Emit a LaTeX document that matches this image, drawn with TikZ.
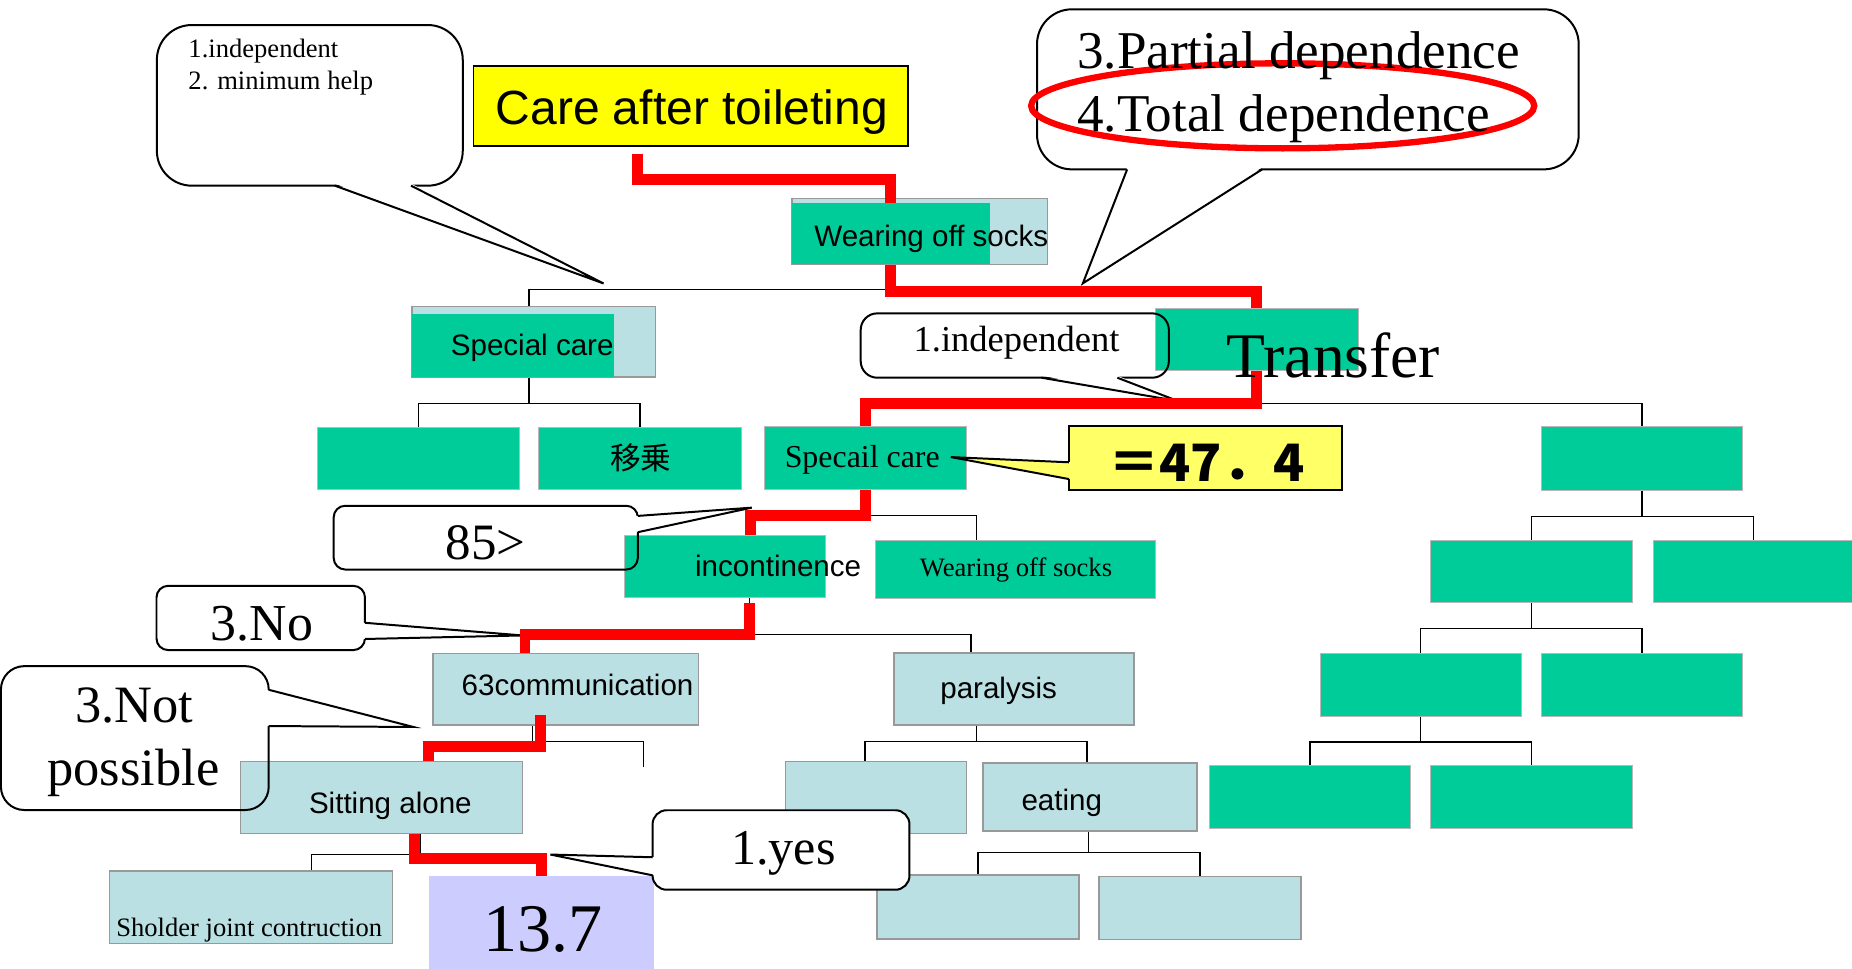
\documentclass[tikz,border=0pt]{standalone}
\usepackage{fontspec}
\setmainfont{Liberation Serif}
\setsansfont{Liberation Sans}
\newfontfamily\jpfont{Noto Sans CJK JP}
\usetikzlibrary{fit}
\definecolor{tgreen}{HTML}{00CC99}
\definecolor{tblue}{HTML}{BBE0E3}
\definecolor{tlav}{HTML}{CCCCFF}
\definecolor{tyel}{HTML}{FFFF00}
\definecolor{tyelb}{HTML}{FFFF66}
\newcommand{\fsz}[1]{\fontsize{#1}{#1}\selectfont}
\tikzset{
  gbox/.style={fill=tgreen, draw=gray!55, line width=0.6pt, inner sep=0pt},
  bbox/.style={fill=tblue, draw=gray!80, line width=0.9pt, inner sep=0pt},
  tree/.style={draw=black, line width=0.8pt},
  route/.style={draw=red, line width=6.6pt},
  bubble/.style={draw=black, line width=1.2pt},
  lbl/.style={inner sep=0pt, anchor=base},
  sanslbl/.style={lbl, font=\sffamily\fsz{17.8pt}}
}
\begin{document}
\begin{tikzpicture}[x=0.025cm,y=-0.025cm]
\useasboundingbox (0,0) rectangle (1568,820);

% Boxes
\node[fill=tyel, draw=black, line width=1pt, inner sep=0pt, fit={(400.8,55.9) (769,123.4)}] (care) {};
\node[bbox, fit={(670.6,167.9) (886.7,223.8)}] (wosbg) {};
\node[fill=tgreen, inner sep=0pt, fit={(670.6,172.2) (838,223.8)}] (wos) {};
\node[bbox, fit={(349,259.7) (555,319)}] (spc) {};
\node[fill=tgreen, inner sep=0pt, fit={(349,265.9) (519.6,319)}] (spcfg) {};
\node[gbox, fit={(268.5,361.7) (439.6,414.7)}] (e1) {};
\node[gbox, fit={(456,361.7) (627.5,414.7)}] (ijo) {};
\node[gbox, fit={(978.4,261) (1149.8,314)}] (trf) {};
\node[gbox, fit={(647.5,361.5) (818.3,414.8)}] (spc2) {};
\node[gbox, fit={(529,453) (699,505.8)}] (inc) {};
\node[gbox, fit={(741.5,457.7) (978.4,506.7)}] (wos2) {};
\node[bbox, fit={(366.5,553.4) (591.5,613.8)}] (com) {};
\node[bbox, fit={(756.8,552.7) (960,613.8)}] (par) {};
\node[bbox, fit={(203.5,644.7) (442.5,705.8)}] (sit) {};
\node[bbox, fit={(665,644.7) (818.2,705.8)}] (e2) {};
\node[bbox, fit={(832.4,646) (1013.6,703.6)}] (eat) {};
\node[bbox, fit={(92.5,737.5) (332.5,798.8)}] (sho) {};
\node[fill=tlav, inner sep=0pt, fit={(363.5,742) (553.5,820)}] (res) {};
\node[bbox, fit={(742.5,741) (913.6,795)}] (e3) {};
\node[bbox, fit={(930.5,742.3) (1101.5,795.6)}] (e4) {};
% right branch
\node[gbox, fit={(1305,361.5) (1475.4,415.4)}] (r1) {};
\node[gbox, fit={(1211.3,457.7) (1381.8,510.4)}] (r2) {};
\node[gbox, fit={(1400,457.7) (1569,510.4)}] (r3) {};
\node[gbox, fit={(1117.6,553.4) (1288,606.5)}] (r4) {};
\node[gbox, fit={(1305,553.4) (1475.4,606.5)}] (r5) {};
\node[gbox, fit={(1024,648.5) (1194.2,701.6)}] (r6) {};
\node[gbox, fit={(1211.3,648.5) (1381.8,701.6)}] (r7) {};
\coordinate (com2) at (545,649);

% Tree lines
\draw[tree] (wos.south) -- ++(0,21.2) -| (spc.north -| 448,0);
\draw[tree] (wos.south) ++(0,21.2) -| (trf.north);
\draw[tree] (spc.south -| 448,0) -- ++(0,22) -| (e1.north);
\draw[tree] (spc.south -| 448,0) ++(0,22) -| (ijo.north);
\draw[tree] (trf.south) -- ++(0,27) -| (r1.north);
\draw[tree] (trf.south) ++(0,27) -| (spc2.north);
\draw[tree] (spc2.south) -- ++(0,21.4) -| (wos2.north -| 826.8,0);
\draw[tree] (spc2.south) ++(0,21.4) -| (inc.north -| 635,0);
\draw[tree] (inc.south -| 634.7,0) -- ++(0,30.8) -| (par.north -| 822,0);
\draw[tree] (inc.south -| 634.7,0) ++(0,30.8) -| (com.north -| 444.5,0);
\draw[tree] (com.south -| 451,0) -- ++(0,13.2) -| (com2);
\draw[tree] (com.south -| 451,0) ++(0,13.2) -| (sit.north -| 363,0);
\draw[tree] (sit.south -| 356,0) -- ++(0,16.8) -| (sho.north -| 263.5,0);
\draw[tree] (sit.south -| 356,0) ++(0,16.8) -| (res.north);
\draw[tree] (par.south -| 826.8,0) -- ++(0,13.2) -| (e2.north -| 732.4,0);
\draw[tree] (par.south -| 826.8,0) ++(0,13.2) -| (eat.north -| 920.3,0);
\draw[tree] (eat.south -| 921.6,0) -- ++(0,17.8) -| (e3.north);
\draw[tree] (eat.south -| 921.6,0) ++(0,17.8) -| (e4.north);
\foreach \p/\a/\b in {r1/r2/r3, r2/r4/r5, r4/r6/r7} {
  \draw[tree] (\p.south) -- ++(0,21.2) -| (\a.north);
  \draw[tree] (\p.south) ++(0,21.2) -| (\b.north);
}

% Callouts
\coordinate (tipA) at (511,240);
\draw[bubble, fill=white, rounded corners=21pt] (132.8,21.2) rectangle (391.8,157.2);
\fill[white] (283.5,155.5) -- (tipA) -- (348,155.5) -- cycle;
\draw[bubble] (283.5,157.2) -- (tipA) -- (348,157.2);

\coordinate (tipB) at (916.8,239.9);
\draw[bubble, fill=white, rounded corners=21pt] (878,7.9) rectangle (1336.6,143.4);
\fill[white] (954.3,141.7) -- (tipB) -- (1068.6,141.7) -- cycle;
\draw[bubble] (954.3,143.4) -- (tipB) -- (1068.6,143.4);

\coordinate (tipC) at (997.2,339.5);
\draw[bubble, rounded corners=10pt] (728.7,265.3) rectangle (989.6,319.8);
\fill[white] (881.8,318.1) -- (tipC) -- (946,318.1) -- cycle;
\draw[bubble] (881.8,319.8) -- (tipC) -- (946,319.8);

\coordinate (tipD) at (805,387);
\draw[bubble, fill=tyelb] (905,360.4) rectangle (1135.8,414.8);
\fill[tyelb] (906.7,391.4) -- (tipD) -- (906.7,405.6) -- cycle;
\draw[bubble] (905,391.4) -- (tipD) -- (905,405.6);

\coordinate (tipE) at (636.5,429.8);
\draw[bubble, rounded corners=7pt] (282.5,428.2) rectangle (540,482.2);
\fill[white] (538.3,436.8) -- (tipE) -- (538.3,450.6) -- cycle;
\draw[bubble] (540,436.8) -- (tipE) -- (540,450.6);

\coordinate (tipF) at (442.5,538);
\draw[bubble, rounded corners=7pt] (132.5,496) rectangle (309,550.4);
\fill[white] (307.3,527.3) -- (tipF) -- (307.3,541) -- cycle;
\draw[bubble] (309,527.3) -- (tipF) -- (309,541);

\coordinate (tipG) at (350,615.5);
\draw[bubble, rounded corners=14pt] (0.8,564) rectangle (227.5,685.8);
\fill[white] (225.8,584) -- (tipG) -- (225.8,614.7) -- cycle;
\draw[bubble] (227.5,584) -- (tipG) -- (227.5,614.7);

% Red route
\draw[route] (care.south -| 539.5,0) ++(0,6.6) -- ++(0,21) -| (wos.north);
\draw[route] (wos.south) -- ++(0,22.6) -| (trf.north);
\draw[route] (trf.south) -- ++(0,27) -| (spc2.north);
\draw[route] (spc2.south) -- ++(0,21.2) -| (inc.north -| 635,0);
\draw[route] (inc.south -| 634.7,0) ++(0,4.7) -- ++(0,26) -| (com.north -| 444.5,0);
\draw[route] (com.south -| 457.5,0) ++(0,-9) -- ++(0,26.8) -| (sit.north -| 363,0);
\draw[route] (sit.south -| 351,0) -- ++(0,20.7) -| (res.north);
\draw[red, line width=3.8pt] (1086,89.6) ellipse [x radius=213, y radius=36];

\coordinate (tipH) at (466,723.5);
\draw[bubble, fill=white, rounded corners=8.5pt] (552.5,686) rectangle (770,753.3);
\fill[white] (554.2,725.8) -- (tipH) -- (554.2,741.1) -- cycle;
\draw[bubble] (552.5,725.8) -- (tipH) -- (552.5,741.1);

% Labels
\node[lbl, anchor=base west, font=\fsz{16pt}] (tinda) at (159.3,48.6) {1.independent};
\node[lbl, anchor=base west, font=\fsz{16pt}] (thelp) at (159.3,75.6) {2. minimum help};
\node[lbl, font=\sffamily\fsz{28.9pt}] (tcare) at (585.7,105) {Care after toileting};
\node[sanslbl] (twos) at (788.5,208.3) {Wearing off socks};
\node[sanslbl] (tspc) at (450.6,301.4) {Special care};
\node[lbl, anchor=base west, font=\fsz{32pt}] (tpart) at (911.8,57.8) {3.Partial dependence};
\node[lbl, anchor=base west, font=\fsz{32pt}] (ttot) at (911.8,111.5) {4.Total dependence};
\node[lbl, anchor=base west, font=\fsz{38.3pt}] (ttrf) at (1038.5,320) {Transfer};
\node[lbl, font=\fsz{22pt}] (tindb) at (860.7,297.8) {1.independent};
\node[inner sep=0pt, font=\jpfont\fsz{18.5pt}] (tijo) at (542.5,387.8) {移乗};
\node[lbl, font=\fsz{19.2pt}] (tspc2) at (730,395.5) {Specail care};
\node[lbl, font=\jpfont\bfseries\fsz{31pt}] (tval) at (1021.5,407.8) {＝47．4};
\node[lbl, font=\fsz{30.7pt}] (t85) at (411.2,473.6) {85>};
\node[sanslbl] (tinc) at (658.8,488) {incontinence};
\node[lbl, font=\fsz{16pt}] (twos2) at (860.2,488) {Wearing off socks};
\node[lbl, font=\fsz{31.2pt}] (tno) at (221.8,542) {3.No};
\node[sanslbl] (tcom) at (489,588.6) {63communication};
\node[sanslbl] (tpar) at (845.5,591) {paralysis};
\node[lbl, font=\fsz{31.6pt}] (tnot) at (113.5,611.6) {3.Not};
\node[lbl, font=\fsz{31.6pt}] (tposs) at (113,665.3) {possible};
\node[sanslbl] (tsit) at (330.5,688.4) {Sitting alone};
\node[sanslbl] (teat) at (899,686.6) {eating};
\node[lbl, font=\fsz{30.2pt}] (tyes) at (663.2,732) {1.yes};
\node[lbl, font=\fsz{16pt}] (tsho) at (211,792.5) {Sholder joint contruction};
\node[lbl, font=\fsz{41pt}] (tres) at (460,806) {13.7};
\end{tikzpicture}
\end{document}
